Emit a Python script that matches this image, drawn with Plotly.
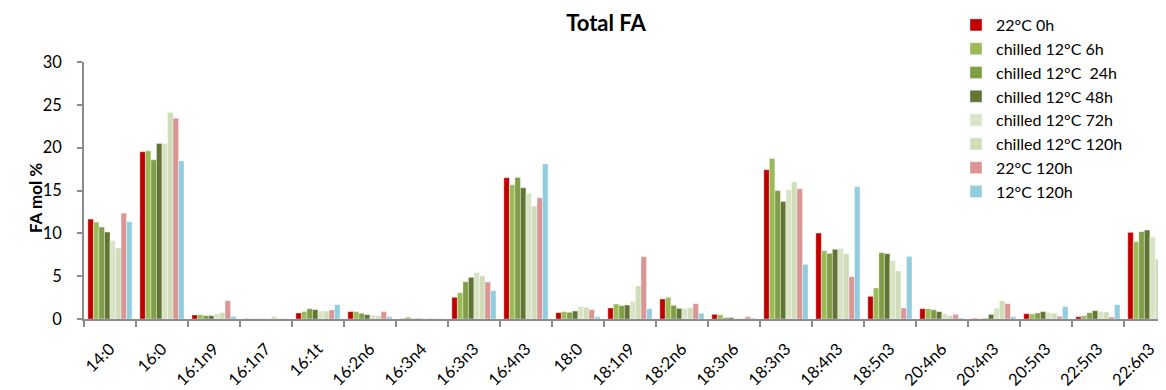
import plotly.graph_objects as go

categories = ["14:0", "16:0", "16:1n9", "16:1n7", "16:1t", "16:2n6", "16:3n4", "16:3n3", "16:4n3",
              "18:0", "18:1n9", "18:2n6", "18:3n6", "18:3n3", "18:4n3", "18:5n3", "20:4n6", "20:4n3",
              "20:5n3", "22:5n3", "22:6n3"]

series_names = ["22°C 0h", "chilled 12°C 6h", "chilled 12°C  24h", "chilled 12°C 48h",
                "chilled 12°C 72h", "chilled 12°C 120h", "22°C 120h", "12°C 120h"]

v_22c_0h = [11.66, 19.52, 0.47, 0.03, 0.70, 0.86, 0.03, 2.53, 16.49, 0.74, 1.28, 2.33, 0.54, 17.42, 10.03, 2.64, 1.20, 0.05, 0.62, 0.27, 10.11]
v_ch_6h = [11.31, 19.63, 0.50, 0.03, 0.86, 0.86, 0.20, 3.07, 15.67, 0.86, 1.75, 2.53, 0.50, 18.74, 7.97, 3.62, 1.20, 0.03, 0.58, 0.39, 9.02]
v_ch_24h = [10.73, 18.58, 0.39, 0.03, 1.20, 0.66, 0.05, 4.35, 16.52, 0.78, 1.56, 1.59, 0.16, 15.00, 7.66, 7.74, 1.09, 0.08, 0.70, 0.74, 10.19]
v_ch_48h = [10.15, 20.49, 0.39, 0.03, 1.09, 0.50, 0.05, 4.86, 15.32, 0.93, 1.63, 1.24, 0.16, 13.72, 8.13, 7.62, 0.86, 0.54, 0.86, 0.97, 10.38]
v_ch_72h = [9.14, 20.49, 0.62, 0.05, 0.93, 0.47, 0.05, 5.44, 14.66, 1.44, 2.06, 1.24, 0.08, 15.09, 8.24, 6.84, 0.62, 1.28, 0.78, 0.86, 9.60]
v_ch_120h = [8.28, 24.10, 0.74, 0.27, 0.93, 0.39, 0.10, 5.05, 13.18, 1.36, 3.85, 1.32, 0.08, 16.02, 7.62, 5.60, 0.39, 2.14, 0.66, 0.82, 7.00]
v_22c_120h = [12.36, 23.44, 2.14, 0.03, 1.05, 0.86, 0.03, 4.32, 14.15, 1.09, 7.27, 1.79, 0.27, 15.20, 4.94, 1.28, 0.54, 1.79, 0.31, 0.23, 6.96]
v_12c_120h = [11.35, 18.43, 0.31, 0.03, 1.67, 0.27, 0.03, 3.30, 18.12, 0.27, 1.20, 0.66, 0.10, 6.38, 15.44, 7.31, 0.12, 0.27, 1.44, 1.67, 8.00]

series_values = [v_22c_0h, v_ch_6h, v_ch_24h, v_ch_48h, v_ch_72h, v_ch_120h, v_22c_120h, v_12c_120h]
colors = ["#C00000", "#9BBB59", "#809D48", "#627634", "#D9E4C6", "#D0DDB9", "#DA9694", "#93CDDD"]

fig = go.Figure()
for name, vals, col in zip(series_names, series_values, colors):
    fig.add_trace(go.Bar(x=categories, y=vals, name=name,
                         marker=dict(color=col, line=dict(color="rgba(255,255,255,0.6)", width=0.6))))

FONT = "Lato, 'Open Sans', sans-serif"
axis_col = "#8C8C8C"
W, H = 1158, 382

fig.update_layout(
    width=W, height=H,
    margin=dict(l=76, r=0, t=54, b=71, autoexpand=False),
    paper_bgcolor="white", plot_bgcolor="white",
    barmode="group", bargap=0.15, bargroupgap=0,
    font=dict(family=FONT, size=16, color="#000000"),
    title=dict(text="<b>Total FA</b>", x=(606 - 8) / W, xref="container", xanchor="center",
               y=1 - 15 / H, yref="container", yanchor="middle", font=dict(size=22)),
    legend=dict(x=948 / W, y=1.0, xref="container", yref="container", xanchor="left", yanchor="top",
                bgcolor="rgba(0,0,0,0)", font=dict(size=16), traceorder="normal", maxheight=H),
    xaxis=dict(type="category", range=[-0.5, 20.31], showline=True, linecolor=axis_col, linewidth=1.5,
               ticks="outside", tickson="boundaries", ticklen=6, tickcolor=axis_col, tickwidth=1.5,
               tickangle=-45, tickfont=dict(size=16.5), ticklabelstandoff=12,
               showgrid=False, zeroline=False, automargin=False),
    yaxis=dict(range=[0, 30], dtick=5, showline=True, linecolor=axis_col, linewidth=1.5,
               ticks="outside", ticklen=5, tickcolor=axis_col, tickwidth=1.5, ticklabelstandoff=12,
               tickfont=dict(size=16.5), showgrid=False, zeroline=False, automargin=False),
    annotations=[dict(text="<b>FA mol %</b>", x=(35 - 84) / 1082, y=(319 - 198) / 257,
                      xref="paper", yref="paper",
                      textangle=-90, showarrow=False, xanchor="center", yanchor="middle",
                      font=dict(size=17))],
)

fig.write_html("out.html")
